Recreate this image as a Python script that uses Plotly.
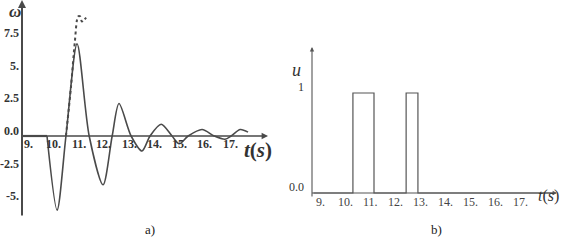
import plotly.graph_objects as go

# ---- data ----
# panel a) angular velocity omega(t): resting segment then oscillation (control points, smoothed)
t_rest = [8.76, 9.75]
omega_rest = [0.0, 0.0]
t_omega = [9.75, 10.15, 10.5, 10.94, 11.42, 11.97, 12.33, 12.6, 13.08, 13.51, 13.83,
           14.27, 14.7, 14.98, 15.34, 15.89, 16.37, 16.8, 17.04, 17.4, 17.71]
omega = [0.0, -5.7, 0.0, 7.1, 0.0, -3.75, 0.0, 2.5, 0.0, -1.15, 0.0,
         0.9, 0.0, -0.6, 0.0, 0.5, 0.0, -0.25, 0.0, 0.5, 0.3]
# panel a) dotted curve (uncontrolled response)
t_dot = [10.5, 10.7, 10.85, 10.98, 11.06, 11.13, 11.2, 11.3]
omega_dot = [0.0, 3.8, 7.2, 9.2, 9.2, 8.8, 8.9, 9.1]
# panel b) control signal u(t)
t_u = [8.68, 10.31, 11.15, 12.43, 12.9, 18.3]
u = [0, 1, 0, 1, 0, 0]

x_ticks = [9, 10, 11, 12, 13, 14, 15, 16, 17]
x_ticklabels = ["9.", "10.", "11.", "12.", "13.", "14.", "15.", "16.", "17."]
ya_ticks = [7.5, 5, 2.5, 0, -2.5, -5]
ya_ticklabels = ["7.5", "5.", "2.5", "0.0", "-2.5", "-5."]
yb_ticks = [1, 0]
yb_ticklabels = ["1", "0.0"]

W, H = 561, 252
GRAY = "#4a4a4a"
SERIF = "Liberation Serif, Times New Roman, serif"

fig = go.Figure()

fig.add_trace(go.Scatter(x=t_rest, y=omega_rest, mode="lines", line=dict(color=GRAY, width=2.2),
                         xaxis="x", yaxis="y", showlegend=False, hoverinfo="skip"))
fig.add_trace(go.Scatter(x=t_omega, y=omega, mode="lines", line=dict(color=GRAY, width=1.6, shape="spline", smoothing=0.8),
                         xaxis="x", yaxis="y", showlegend=False, hoverinfo="skip"))
fig.add_trace(go.Scatter(x=t_dot, y=omega_dot, mode="lines", line=dict(color=GRAY, width=2, dash="dot", shape="spline", smoothing=0.8),
                         xaxis="x", yaxis="y", showlegend=False, hoverinfo="skip"))
fig.add_trace(go.Scatter(x=t_u, y=u, mode="lines", line=dict(color="#555555", width=1.2, shape="hv"),
                         xaxis="x2", yaxis="y2", showlegend=False, hoverinfo="skip"))

# axes ranges / domains
xa_range = [8.76, 18.5]
ya_range = [-6.23, 10.46]
xb_range = [8.68, 18.44]
yb_range = [-0.05, 1.46]

ax_common = dict(visible=False, showgrid=False, zeroline=False, fixedrange=True)
fig.update_layout(
    width=W, height=H, margin=dict(l=0, r=0, t=0, b=0),
    paper_bgcolor="white", plot_bgcolor="white",
    font=dict(family=SERIF),
    xaxis=dict(domain=[22 / W, 268 / W], range=xa_range, **ax_common),
    yaxis=dict(domain=[1 - 217 / H, 1.0], range=ya_range, **ax_common),
    xaxis2=dict(domain=[312 / W, 557 / W], range=xb_range, anchor="y2", **ax_common),
    yaxis2=dict(domain=[1 - 198 / H, 1 - 47 / H], range=yb_range, anchor="x2", **ax_common),
)

ann = []
# axis arrows panel a
ann.append(dict(x=xa_range[0], y=ya_range[1], ax=xa_range[0], ay=ya_range[0], xref="x", yref="y", axref="x", ayref="y",
                text="", showarrow=True, arrowhead=2, arrowsize=0.8, arrowwidth=2, arrowcolor=GRAY))
ann.append(dict(x=xa_range[1], y=0, ax=xa_range[0], ay=0, xref="x", yref="y", axref="x", ayref="y",
                text="", showarrow=True, arrowhead=2, arrowsize=0.8, arrowwidth=1.6, arrowcolor=GRAY))
# axis arrows panel b
ann.append(dict(x=xb_range[0], y=yb_range[1], ax=xb_range[0], ay=yb_range[0], xref="x2", yref="y2", axref="x2", ayref="y2",
                text="", showarrow=True, arrowhead=2, arrowsize=0.8, arrowwidth=1.1, arrowcolor="#555555"))
ann.append(dict(x=xb_range[1], y=0, ax=xb_range[0], ay=0, xref="x2", yref="y2", axref="x2", ayref="y2",
                text="", showarrow=True, arrowhead=2, arrowsize=0.8, arrowwidth=1.1, arrowcolor="#555555"))

# tick labels panel a
for t, lab in zip(x_ticks, x_ticklabels):
    ann.append(dict(x=t, y=0, xref="x", yref="y", text=f"<b>{lab}</b>", showarrow=False, yshift=-8,
                    font=dict(family=SERIF, size=12, color="#333")))
for v, lab in zip(ya_ticks, ya_ticklabels):
    ann.append(dict(x=xa_range[0], y=v, xref="x", yref="y", text=f"<b>{lab}</b>", showarrow=False, xanchor="right",
                    xshift=-1, yshift=5, font=dict(family=SERIF, size=12, color="#333")))
# tick labels panel b
for t, lab in zip(x_ticks, x_ticklabels):
    ann.append(dict(x=t, y=0, xref="x2", yref="y2", text=lab, showarrow=False, yshift=-9,
                    font=dict(family=SERIF, size=12, color="#444")))
for v, lab in zip(yb_ticks, yb_ticklabels):
    ann.append(dict(x=xb_range[0], y=v, xref="x2", yref="y2", text=lab, showarrow=False, xanchor="right",
                    xshift=-6, yshift=6, font=dict(family=SERIF, size=12, color="#333")))

# axis titles
ann.append(dict(x=7 / W, y=1.0, xref="paper", yref="paper", text="<b><i>ω</i></b>", showarrow=False,
                yanchor="top", yshift=0, font=dict(family=SERIF, size=17, color="#333")))
ann.append(dict(x=258 / W, y=1 - 150 / H, xref="paper", yref="paper", text="<b><i>t</i>(<i>s</i>)</b>", showarrow=False,
                font=dict(family=SERIF, size=21, color="#333")))
ann.append(dict(x=296 / W, y=1 - 58 / H, xref="paper", yref="paper", text="<i>u</i>", showarrow=False,
                font=dict(family=SERIF, size=18, color="#333")))
ann.append(dict(x=548 / W, y=1 - 207 / H, xref="paper", yref="paper", text="<i>t</i>(<i>s</i>)", showarrow=False,
                xanchor="center", font=dict(family=SERIF, size=16, color="#333")))
# panel captions
ann.append(dict(x=143 / W, y=1 - 239 / H, xref="paper", yref="paper", text="a)", showarrow=False,
                font=dict(family=SERIF, size=13, color="#222")))
ann.append(dict(x=444 / W, y=1 - 239 / H, xref="paper", yref="paper", text="b)", showarrow=False,
                font=dict(family=SERIF, size=13, color="#222")))

fig.update_layout(annotations=ann)
fig.write_html("out.html")
